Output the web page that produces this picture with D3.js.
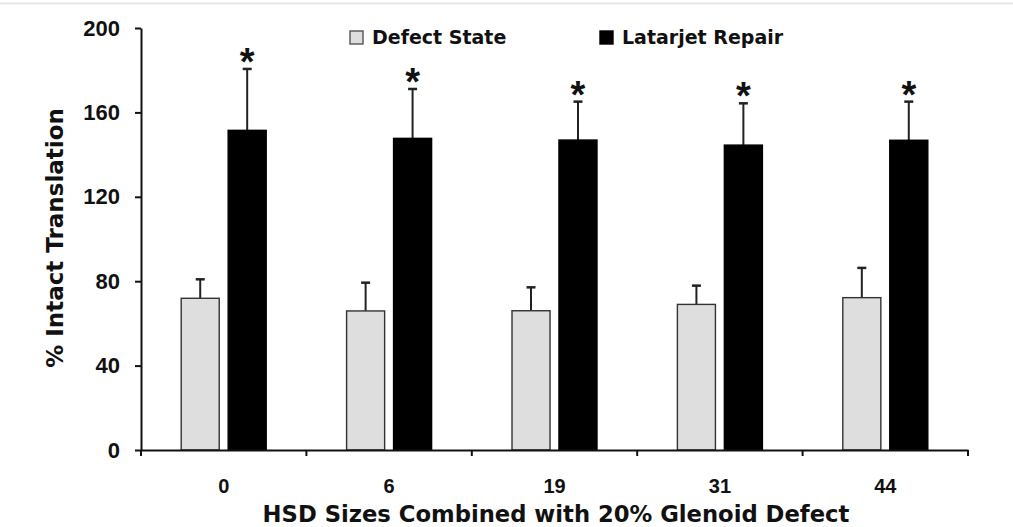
<!DOCTYPE html>
<html>
<head>
<meta charset="utf-8">
<script src="https://cdn.jsdelivr.net/npm/d3@7"></script>
<style>
  body { margin: 0; background: #fff; }
  text { font-family: "Liberation Sans", Arial, sans-serif; font-weight: bold; fill: #111; }
  .heavy { font-family: "DejaVu Sans", Verdana, sans-serif; font-weight: bold; }
</style>
</head>
<body>
<div id="chart"></div>
<script>
// data
var categories = ["0", "6", "19", "31", "44"];
var seriesNames = ["Defect State", "Latarjet Repair"];
var defectMean = [71.9, 65.9, 66.0, 69.0, 72.2];
var defectSD = [9.0, 13.4, 11.1, 8.9, 14.1];
var latarjetMean = [151.5, 147.7, 146.9, 144.5, 146.8];
var latarjetSD = [29.1, 23.4, 18.2, 19.8, 18.3];
var significant = [true, true, true, true, true];
var yTicks = [0, 40, 80, 120, 160, 200];

var W = 1013, H = 527;
var margin = { top: 28, right: 45, bottom: 77, left: 141 };

var svg = d3.select("#chart")
	.append("svg")
	.attr("width", W)
	.attr("height", H);

svg.append("rect")
	.attr("width", W)
	.attr("height", H)
	.attr("fill", "#fff");

// faint frame line on top
svg.append("line")
	.attr("x1", 0).attr("x2", W)
	.attr("y1", 3.5).attr("y2", 3.5)
	.attr("stroke", "#e6e6e6")
	.attr("stroke-width", 2);

var x = d3.scaleBand()
	.domain(categories)
	.range([margin.left, W - margin.right])
	.padding(0);

var y = d3.scaleLinear()
	.domain([0, 200])
	.range([H - margin.bottom, margin.top]);

// two bars per group
var groupWidth = 85;
var inner = d3.scaleBand()
	.domain(seriesNames)
	.range([0, groupWidth])
	.paddingInner(0.19);

var color = d3.scaleOrdinal()
	.domain(seriesNames)
	.range(["#dedede", "#000"]);

var rows = [];
categories.forEach(function(c, i) {
	rows.push({ cat: c, s: seriesNames[0], v: defectMean[i], sd: defectSD[i], star: false });
	rows.push({ cat: c, s: seriesNames[1], v: latarjetMean[i], sd: latarjetSD[i], star: significant[i] });
});

function barX(d) {
	return x(d.cat) + (x.bandwidth() - groupWidth) / 2 + inner(d.s);
}

// error bars (upper only), drawn under the bars
var eb = svg.append("g").selectAll("g")
	.data(rows)
	.enter()
	.append("g");

eb.append("line")
	.attr("x1", function(d) { return barX(d) + inner.bandwidth() / 2; })
	.attr("x2", function(d) { return barX(d) + inner.bandwidth() / 2; })
	.attr("y1", function(d) { return y(d.v); })
	.attr("y2", function(d) { return y(d.v + d.sd); })
	.attr("stroke", "#222")
	.attr("stroke-width", 2);

eb.append("line")
	.attr("x1", function(d) { return barX(d) + inner.bandwidth() / 2 - 4.5; })
	.attr("x2", function(d) { return barX(d) + inner.bandwidth() / 2 + 4.5; })
	.attr("y1", function(d) { return y(d.v + d.sd); })
	.attr("y2", function(d) { return y(d.v + d.sd); })
	.attr("stroke", "#222")
	.attr("stroke-width", 2.5);

svg.append("g")
	.selectAll("rect")
	.data(rows)
	.enter()
	.append("rect")
	.attr("x", function(d) { return barX(d); })
	.attr("y", function(d) { return y(d.v); })
	.attr("width", inner.bandwidth())
	.attr("height", function(d) { return y(0) - y(d.v); })
	.attr("fill", function(d) { return color(d.s); })
	.attr("stroke", function(d) { return d.s === seriesNames[0] ? "#333" : "#000"; })
	.attr("stroke-width", 1.4);

// significance asterisks
svg.append("g")
	.selectAll("text")
	.data(rows.filter(function(d) { return d.star; }))
	.enter()
	.append("text")
	.attr("x", function(d) { return barX(d) + inner.bandwidth() / 2; })
	.attr("y", function(d) { return y(d.v + d.sd) + 6; })
	.attr("text-anchor", "middle")
	.style("font-size", "38px")
	.text("*");

// y axis
var yAxis = svg.append("g")
	.attr("transform", "translate(" + margin.left + ",0)")
	.call(d3.axisLeft(y).tickValues(yTicks).tickSize(6).tickSizeOuter(0).tickPadding(15));
yAxis.select(".domain").attr("stroke", "#111").attr("stroke-width", 2);
yAxis.selectAll(".tick line").attr("stroke", "#111").attr("stroke-width", 2);
yAxis.selectAll("text").style("font-size", "22px").style("font-family", "Liberation Sans, Arial").style("font-weight", "bold").attr("fill", "#111");

// x axis, labels centred in each band, ticks on band edges
var xAxis = svg.append("g")
	.attr("transform", "translate(0," + y(0) + ")")
	.call(d3.axisBottom(x).tickSize(0).tickSizeOuter(0).tickPadding(29));
xAxis.select(".domain").attr("stroke", "#111").attr("stroke-width", 2);
xAxis.selectAll("text").style("font-size", "20px").style("font-family", "Liberation Sans, Arial").style("font-weight", "bold").attr("fill", "#111");

xAxis.selectAll(".edge")
	.data(d3.range(categories.length + 1))
	.enter()
	.append("line")
	.attr("class", "edge")
	.attr("x1", function(i) { return x.range()[0] + i * x.step(); })
	.attr("x2", function(i) { return x.range()[0] + i * x.step(); })
	.attr("y1", 0)
	.attr("y2", 6)
	.attr("stroke", "#111")
	.attr("stroke-width", 2);

// axis titles
svg.append("text")
	.attr("class", "heavy")
	.attr("x", 556)
	.attr("y", 522)
	.attr("text-anchor", "middle")
	.style("font-size", "22.7px")
	.text("HSD Sizes Combined with 20% Glenoid Defect");

svg.append("text")
	.attr("class", "heavy")
	.attr("transform", "translate(63," + 238 + ") rotate(-90)")
	.attr("text-anchor", "middle")
	.style("font-size", "23px")
	.text("% Intact Translation");

// legend
var legend = svg.selectAll(".legend")
	.data(seriesNames)
	.enter()
	.append("g")
	.attr("class", "legend")
	.attr("transform", function(d, i) { return "translate(" + (350 + i * 250) + ",31)"; });

legend.append("rect")
	.attr("width", 13)
	.attr("height", 13)
	.attr("fill", color)
	.attr("stroke", function(d, i) { return i === 0 ? "#555" : "#000"; })
	.attr("stroke-width", 1.4);

legend.append("text")
	.attr("class", "heavy")
	.attr("x", 22)
	.attr("y", 13)
	.style("font-size", "19px")
	.text(function(d) { return d; });
</script>
</body>
</html>
